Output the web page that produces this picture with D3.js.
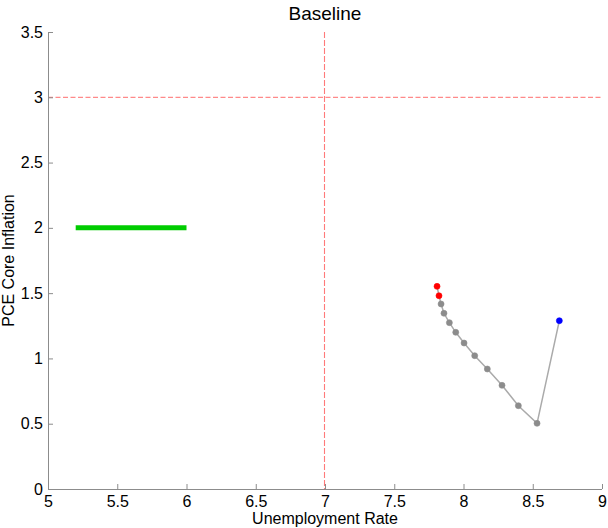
<!DOCTYPE html>
<html>
<head>
<meta charset="utf-8">
<script src="https://cdn.jsdelivr.net/npm/d3@7"></script>
<style>
  body { margin: 0; background: #fff; }
  text { font-family: "Liberation Sans", Arial, sans-serif; }
</style>
</head>
<body>
<div id="chart"></div>
<script>
// data
const pathUnemp = [8.692, 8.531, 8.396, 8.278, 8.172, 8.081, 8.004, 7.944, 7.898, 7.859, 7.838, 7.823, 7.809];
const pathInfl  = [1.289, 0.503, 0.638, 0.794, 0.919, 1.021, 1.118, 1.200, 1.274, 1.346, 1.417, 1.480, 1.552];
// marker kind per point: start (blue), projection (gray), end (red)
const pointKind = ["start", "proj", "proj", "proj", "proj", "proj", "proj", "proj", "proj", "proj", "proj", "end", "end"];
const targetUnemp = [5.2, 6.0];
const targetInfl = 2;
const refUnemp = 7;
const refInfl = 3;
const xTicks = [5, 5.5, 6, 6.5, 7, 7.5, 8, 8.5, 9];
const yTicks = [0, 0.5, 1, 1.5, 2, 2.5, 3, 3.5];

const svgWidth = 608;
const svgHeight = 528;
const margin = {top: 32, right: 6, bottom: 39, left: 48};
const width = svgWidth - margin.left - margin.right;
const height = svgHeight - margin.top - margin.bottom;

const svg = d3.select("#chart")
  .append("svg")
  .attr("width", svgWidth)
  .attr("height", svgHeight);

const chartGroup = svg.append("g")
  .attr("transform", `translate(${margin.left},${margin.top})`);

const x = d3.scaleLinear().domain([5, 9]).range([0, width]);
const y = d3.scaleLinear().domain([0, 3.5]).range([height, 0]);

// reference lines (dashed, light red)
chartGroup.append("line")
  .attr("x1", 0).attr("x2", width)
  .attr("y1", y(refInfl)).attr("y2", y(refInfl))
  .attr("stroke", "#ff8a8a").attr("stroke-width", 1.2)
  .attr("stroke-dasharray", "5,2.5");

chartGroup.append("line")
  .attr("x1", x(refUnemp) - 0.5).attr("x2", x(refUnemp) - 0.5)
  .attr("y1", 0).attr("y2", height)
  .attr("stroke", "#ff7a7a").attr("stroke-width", 1.1)
  .attr("stroke-dasharray", "6,2");

// target bar
chartGroup.append("line")
  .attr("x1", x(targetUnemp[0])).attr("x2", x(targetUnemp[1]))
  .attr("y1", y(targetInfl)).attr("y2", y(targetInfl))
  .attr("stroke", "#00cc00").attr("stroke-width", 5);

// path
const pts = pathUnemp.map((u, i) => ({u: u, p: pathInfl[i], k: pointKind[i]}));
const line = d3.line().x(d => x(d.u)).y(d => y(d.p));
chartGroup.append("path")
  .datum(pts)
  .attr("d", line)
  .attr("fill", "none")
  .attr("stroke", "#aaaaaa")
  .attr("stroke-width", 1.5);

const colors = {start: "#0000ff", proj: "#8c8c8c", end: "#ff0000"};
chartGroup.append("g")
  .selectAll("circle")
  .data(pts)
  .enter()
  .append("circle")
  .attr("cx", d => x(d.u))
  .attr("cy", d => y(d.p))
  .attr("r", 3)
  .attr("fill", d => colors[d.k])
  .attr("stroke", d => colors[d.k])
  .attr("stroke-opacity", 0.6)
  .attr("stroke-width", 1);

// axes (MATLAB style, ticks inside, no box)
const bottomAxis = d3.axisBottom(x).tickValues(xTicks).tickSize(-5).tickPadding(7)
  .tickFormat(d3.format("~g"));
const leftAxis = d3.axisLeft(y).tickValues(yTicks).tickSize(-5).tickPadding(5)
  .tickFormat(d3.format("~g"));

const xAxis = chartGroup.append("g")
  .attr("transform", `translate(0,${height})`)
  .call(bottomAxis);
const yAxis = chartGroup.append("g")
  .call(leftAxis);

[xAxis, yAxis].forEach(a => {
  a.select(".domain").attr("stroke", "#8c8c8c");
  a.selectAll(".tick line").attr("stroke", "#8c8c8c");
  a.selectAll(".tick text").attr("fill", "#000").attr("font-size", "16px")
    .attr("font-family", "Liberation Sans, Arial, sans-serif");
});
xAxis.select(".domain").attr("d", `M0.5,0.5H${width}`);
yAxis.select(".domain").attr("d", `M0.5,0.5V${height}`);

// labels
svg.append("text")
  .attr("x", margin.left + width / 2)
  .attr("y", 20)
  .attr("text-anchor", "middle")
  .attr("font-size", "19px")
  .text("Baseline");

svg.append("text")
  .attr("x", margin.left + width / 2)
  .attr("y", 524)
  .attr("text-anchor", "middle")
  .attr("font-size", "16px")
  .text("Unemployment Rate");

svg.append("text")
  .attr("transform", `translate(14,${margin.top + height / 2}) rotate(-90)`)
  .attr("text-anchor", "middle")
  .attr("font-size", "16px")
  .text("PCE Core Inflation");
</script>
</body>
</html>
